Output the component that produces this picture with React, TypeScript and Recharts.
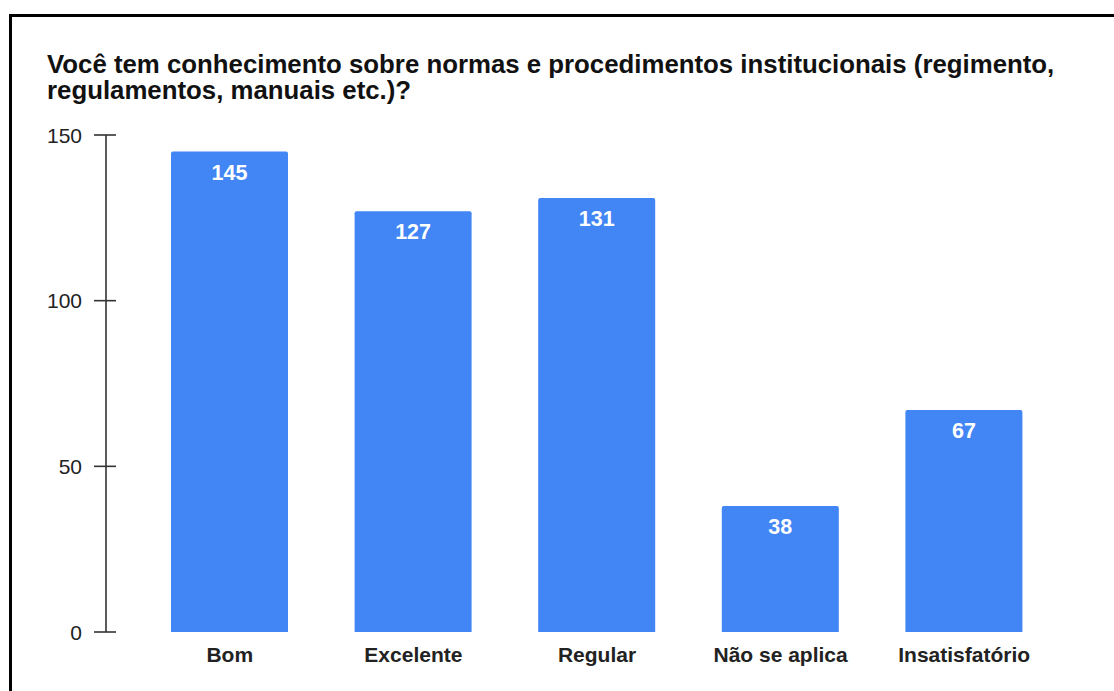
import React from 'react';
import { BarChart, Bar, XAxis, YAxis, LabelList } from 'recharts';

const categories = ['Bom', 'Excelente', 'Regular', 'Não se aplica', 'Insatisfatório'];
const counts = [145, 127, 131, 38, 67];
const yTicks = [0, 50, 100, 150];
const titleLines = [
  'Você tem conhecimento sobre normas e procedimentos institucionais (regimento,',
  'regulamentos, manuais etc.)?',
];

const data = categories.map((name, i) => ({ name, value: counts[i] }));

const FONT = '"Liberation Sans", Arial, sans-serif';

const YTick = (props: any) => {
  const { x, y, payload } = props;
  return (
    <g>
      <line x1={x + 12} x2={x + 34} y1={y} y2={y} stroke="#333" strokeWidth={1.6} />
      <text
        x={x}
        y={y}
        textAnchor="end"
        dominantBaseline="central"
        fontFamily={FONT}
        fontSize={21}
        fill="#222"
      >
        {payload.value}
      </text>
    </g>
  );
};

export default function App() {
  return (
    <div
      style={{
        position: 'absolute',
        left: 0,
        top: 0,
        width: 1114,
        height: 691,
        background: '#fff',
        overflow: 'hidden',
        fontFamily: FONT,
      }}
    >
      <div
        style={{
          position: 'absolute',
          left: 9,
          top: 14,
          right: 0,
          bottom: 0,
          borderTop: '3px solid #000',
          borderLeft: '3px solid #000',
        }}
      />
      <div
        style={{
          position: 'absolute',
          left: 47,
          top: 51,
          fontSize: 25.8,
          fontWeight: 'bold',
          lineHeight: '26px',
          color: '#111',
          whiteSpace: 'nowrap',
        }}
      >
        {titleLines.map((t) => (
          <div key={t}>{t}</div>
        ))}
      </div>
      <div style={{ position: 'absolute', left: 0, top: 0 }}>
        <BarChart
          width={1114}
          height={691}
          data={data}
          margin={{ top: 135, right: 58, bottom: 0, left: 0 }}
          barSize={117}
        >
          <XAxis
            dataKey="name"
            height={59}
            axisLine={false}
            tickLine={false}
            tickSize={0}
            tickMargin={15}
            padding={{ left: 32, right: 0 }}
            tick={{ fill: '#222', fontSize: 21, fontWeight: 'bold', fontFamily: FONT }}
            interval={0}
          />
          <YAxis
            width={106}
            domain={[0, 150]}
            ticks={yTicks}
            interval={0}
            axisLine={{ stroke: '#333', strokeWidth: 1.6 }}
            tickLine={false}
            tickSize={0}
            tickMargin={24}
            tick={<YTick />}
          />
          <Bar dataKey="value" fill="#4285F4" radius={[2, 2, 0, 0]} isAnimationActive={false}>
            <LabelList
              dataKey="value"
              position="insideTop"
              offset={13}
              fill="#fff"
              fontSize={21.5}
              fontWeight="bold"
              fontFamily={FONT}
            />
          </Bar>
        </BarChart>
      </div>
    </div>
  );
}
